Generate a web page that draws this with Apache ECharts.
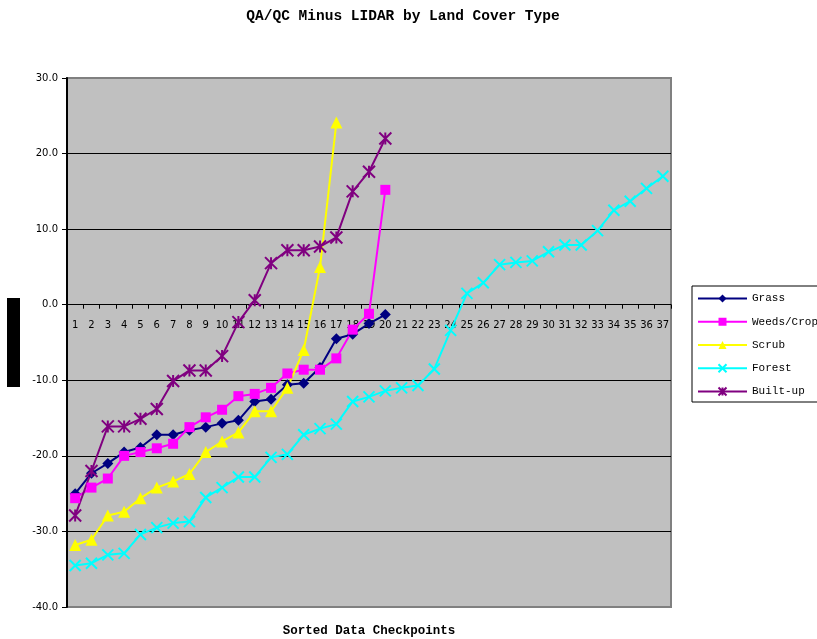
<!DOCTYPE html>
<html>
<head>
<meta charset="utf-8">
<script src="https://cdn.jsdelivr.net/npm/echarts@6/dist/echarts.min.js"></script>
<style>
html,body{margin:0;padding:0;background:#fff;}
#chart{width:817px;height:639px;}
</style>
</head>
<body>
<div id="chart"></div>
<script>
const titleText = 'QA/QC Minus LIDAR by Land Cover Type';
const xAxisTitle = 'Sorted Data Checkpoints';
const categories = ['1','2','3','4','5','6','7','8','9','10','11','12','13','14','15','16','17','18','19','20','21','22','23','24','25','26','27','28','29','30','31','32','33','34','35','36','37'];
const seriesNames = ['Grass','Weeds/Crop','Scrub','Forest','Built-up'];
const grass = [-25.0,-22.3,-21.0,-19.5,-18.9,-17.2,-17.2,-16.6,-16.2,-15.7,-15.3,-12.8,-12.5,-10.6,-10.4,-8.3,-4.5,-3.9,-2.5,-1.3];
const weedsCrop = [-25.6,-24.2,-23.0,-20.0,-19.5,-19.0,-18.4,-16.2,-14.9,-13.9,-12.1,-11.8,-11.0,-9.1,-8.6,-8.6,-7.1,-3.3,-1.2,15.2];
const scrub = [-31.8,-31.1,-27.9,-27.4,-25.6,-24.2,-23.4,-22.4,-19.5,-18.1,-16.9,-14.1,-14.1,-11.0,-6.0,5.0,24.1];
const forest = [-34.5,-34.2,-33.1,-32.9,-30.4,-29.5,-28.9,-28.7,-25.5,-24.2,-22.8,-22.8,-20.2,-19.8,-17.2,-16.4,-15.8,-12.8,-12.2,-11.4,-11.0,-10.7,-8.5,-3.4,1.5,2.9,5.3,5.6,5.8,7.0,7.9,7.9,9.8,12.5,13.7,15.4,17.0];
const builtUp = [-27.9,-22.0,-16.1,-16.1,-15.1,-13.8,-10.1,-8.7,-8.7,-6.8,-2.3,0.6,5.5,7.2,7.2,7.7,8.9,15.0,17.6,22.0];

const colors = ['#000080','#FF00FF','#FFFF00','#00FFFF','#800080'];
const symbols = [
  'diamond',
  'rect',
  'triangle',
  'path://M0,0L10,10M10,0L0,10',
  'path://M5,0L5,10M0,0L10,10M10,0L0,10'
];
const symbolSizes = [11, 10, 12, 11, 12];
const dataSets = [grass, weedsCrop, scrub, forest, builtUp];

const yMin = -40, yMax = 30;
const gridTop = 78, gridBottom = 32, chartH = 639;
const plotH = chartH - gridTop - gridBottom;
const zeroOffset = -(plotH * (0 - yMin) / (yMax - yMin));

const chart = echarts.init(document.getElementById('chart'), null, {renderer:'canvas'});
const series = seriesNames.map((name, i) => {
  const stroke = i >= 3;
  return {
    name: name,
    type: 'line',
    data: dataSets[i],
    symbol: symbols[i],
    symbolSize: symbolSizes[i],
    showAllSymbol: true,
    animation: false,
    lineStyle: {color: colors[i], width: 2},
    itemStyle: stroke ? {color: colors[i], borderColor: colors[i], borderWidth: 2} : {color: colors[i], borderWidth: 0}
  };
});

chart.setOption({
  animation: false,
  backgroundColor: '#ffffff',
  title: {
    text: titleText,
    left: 398,
    top: 4,
    textAlign: 'center',
    textStyle: {fontFamily: 'Liberation Mono', fontWeight: 'bold', fontSize: 14.5, color: '#000'}
  },
  grid: {
    left: 67, right: 146, top: gridTop, bottom: gridBottom,
    containLabel: false,
    outerBoundsMode: 'none',
    show: true,
    backgroundColor: '#C0C0C0',
    borderColor: '#808080',
    borderWidth: 2
  },
  legend: {
    orient: 'vertical',
    left: 692,
    top: 286,
    data: seriesNames,
    itemWidth: 49,
    itemHeight: 10,
    itemGap: 12.25,
    padding: [7, 5, 5, 5],
    backgroundColor: '#ffffff',
    borderColor: '#000000',
    borderWidth: 1,
    borderRadius: 0,
    textStyle: {fontFamily: 'Liberation Mono', fontSize: 11, color: '#000'}
  },
  xAxis: {
    type: 'category',
    data: categories,
    boundaryGap: true,
    position: 'bottom',
    offset: zeroOffset,
    name: xAxisTitle,
    nameLocation: 'middle',
    nameGap: 320,
    nameTextStyle: {fontFamily: 'Liberation Mono', fontWeight: 'bold', fontSize: 12.5, color: '#000'},
    axisLine: {onZero: false, lineStyle: {color: '#000', width: 1}},
    axisTick: {show: true, length: 4, inside: false, lineStyle: {color: '#000'}},
    axisLabel: {interval: 0, margin: 16, fontFamily: 'DejaVu Sans', fontSize: 10, color: '#000'},
    splitLine: {show: false}
  },
  yAxis: {
    type: 'value',
    min: yMin,
    max: yMax,
    interval: 10,
    axisLine: {show: true, lineStyle: {color: '#000', width: 2}},
    axisTick: {show: true, length: 5, lineStyle: {color: '#000'}},
    axisLabel: {margin: 9, fontFamily: 'DejaVu Sans', fontSize: 10, color: '#000', formatter: v => v.toFixed(1)},
    splitLine: {show: true, lineStyle: {color: ['#808080','#000','#000','#000','#000','#000','#000','#808080'], width: 1}}
  },
  graphic: [{
    type: 'rect',
    shape: {x: 7, y: 298, width: 13, height: 89},
    style: {fill: '#000'}
  }],
  series: series
});
</script>
</body>
</html>
